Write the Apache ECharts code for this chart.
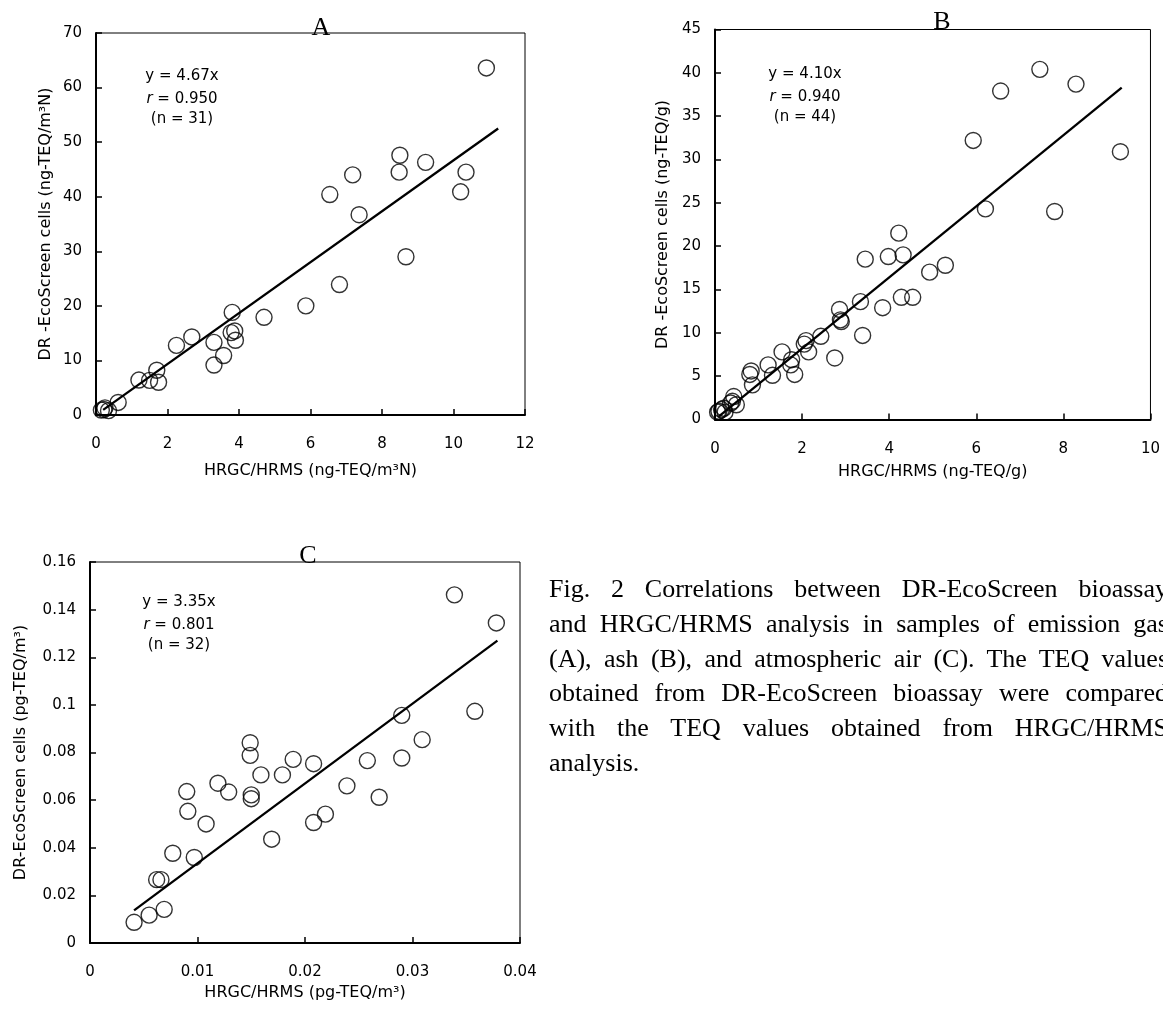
<!DOCTYPE html>
<html>
<head>
<meta charset="utf-8">
<script src="https://cdn.jsdelivr.net/npm/echarts@6/dist/echarts.min.js"></script>
<style>
  html, body { margin: 0; padding: 0; background: #fff; overflow: hidden; }
  #main { width: 1163px; height: 1014px; }
  #caption {
    position: absolute; left: 549px; top: 572px; width: 619px;
    font-family: "Liberation Serif", "Times New Roman", serif;
    font-size: 26px; line-height: 34.8px; color: #000;
  }
  #caption .j { text-align: justify; text-align-last: justify; }
</style>
</head>
<body>
<div id="main"></div>
<div id="caption">
  <div class="j">Fig. 2 Correlations between DR-EcoScreen bioassay</div>
  <div class="j">and HRGC/HRMS analysis in samples of emission gas</div>
  <div class="j">(A), ash (B), and atmospheric air (C). The TEQ values</div>
  <div class="j">obtained from DR-EcoScreen bioassay were compared</div>
  <div class="j">with the TEQ values obtained from HRGC/HRMS</div>
  <div>analysis.</div>
</div>
<script>
// A: emission gas (ng-TEQ/m3N)
var xA = [10.92, 8.5, 8.48, 9.22, 10.35, 10.2, 7.18, 6.54, 7.36, 8.67, 6.81, 5.87, 4.7, 3.81, 3.88, 3.78,
  3.9, 3.3, 3.57, 3.3, 2.68, 2.25, 1.7, 1.75, 1.5, 1.2, 0.62, 0.35, 0.22, 0.15, 0.25];
var yA = [63.6, 47.6, 44.5, 46.3, 44.5, 40.9, 44.0, 40.4, 36.7, 29.0, 23.9, 20.0, 17.9, 18.8, 15.4, 15.1,
  13.7, 13.3, 10.9, 9.15, 14.3, 12.75, 8.2, 6.0, 6.35, 6.4, 2.3, 0.8, 1.0, 0.9, 1.3];
var fitA = [[0.2, 0.93], [11.25, 52.5]];

// B: ash (ng-TEQ/g)
var xB = [7.46, 8.29, 6.56, 5.93, 9.31, 6.21, 7.8, 4.22, 3.98, 4.32, 3.45, 5.29, 4.93, 4.28, 4.54, 3.34,
  3.85, 2.86, 2.9, 2.88, 3.39, 2.43, 2.09, 2.15, 1.54, 2.75, 1.76, 1.74, 1.22, 1.83, 1.32, 0.83,
  0.8, 0.86, 0.43, 0.36, 0.49, 0.15, 0.23, 0.06, 0.09, 0.2, 0.4, 2.05];
var yB = [40.4, 38.7, 37.9, 32.2, 30.9, 24.3, 24.0, 21.5, 18.8, 19.0, 18.5, 17.8, 17.0, 14.1, 14.1, 13.6,
  12.9, 12.7, 11.3, 11.5, 9.7, 9.6, 9.1, 7.8, 7.8, 7.1, 6.9, 6.3, 6.3, 5.2, 5.1, 5.6,
  5.2, 4.0, 2.65, 1.9, 1.7, 1.15, 0.85, 0.85, 0.95, 1.3, 2.1, 8.7];
var fitB = [[0.09, 0.37], [9.34, 38.3]];

// C: atmospheric air (pg-TEQ/m3)
var xC = [0.0339, 0.0378, 0.0358, 0.029, 0.0309, 0.029, 0.0258, 0.0239, 0.0269, 0.0219, 0.0208, 0.0208,
  0.0189, 0.0179, 0.0169, 0.0159, 0.0149, 0.0149, 0.015, 0.015, 0.0129, 0.0119, 0.0108, 0.009,
  0.0091, 0.0097, 0.0077, 0.0066, 0.0062, 0.0069, 0.0055, 0.0041];
var yC = [0.1462, 0.1344, 0.0973, 0.0956, 0.0854, 0.0777, 0.0766, 0.066, 0.0612, 0.0541, 0.0506, 0.0753,
  0.0771, 0.0706, 0.0436, 0.0706, 0.0841, 0.0788, 0.0622, 0.0606, 0.0634, 0.0671, 0.05, 0.0636,
  0.0553, 0.0359, 0.0377, 0.0266, 0.0266, 0.0141, 0.0117, 0.0087];
var fitC = [[0.0041, 0.0137], [0.0379, 0.127]];

var FONT = '"DejaVu Sans", "Liberation Sans", Arial, sans-serif';
var SERIF = '"Liberation Serif", "Times New Roman", serif';

function pairs(xs, ys) {
  return xs.map(function (x, i) { return [x, ys[i]]; });
}

function xAxisCfg(idx, max, interval, name, gap) {
  return {
    gridIndex: idx, type: 'value', min: 0, max: max, interval: interval,
    name: name, nameLocation: 'middle', nameGap: gap,
    nameTextStyle: { fontFamily: FONT, fontSize: 16, color: '#000' },
    axisLine: { show: true, onZero: false, lineStyle: { color: '#000', width: 2 } },
    axisTick: { show: true, inside: true, length: 6, lineStyle: { color: '#000', width: 1.5 } },
    axisLabel: { margin: 22, fontFamily: FONT, fontSize: 15, color: '#000' },
    splitLine: { show: false }
  };
}

function yAxisCfg(idx, max, interval, name, gap) {
  return {
    gridIndex: idx, type: 'value', min: 0, max: max, interval: interval,
    name: name, nameLocation: 'middle', nameGap: gap,
    nameTextStyle: { fontFamily: FONT, fontSize: 16, color: '#000' },
    axisLine: { show: true, onZero: false, lineStyle: { color: '#000', width: 2 } },
    axisTick: { show: true, inside: true, length: 6, lineStyle: { color: '#000', width: 1.5 } },
    axisLabel: { margin: 14, fontFamily: FONT, fontSize: 15, color: '#000' },
    splitLine: { show: false }
  };
}

function scatterCfg(idx, data) {
  return {
    type: 'scatter', xAxisIndex: idx, yAxisIndex: idx, data: data,
    symbol: 'circle', symbolSize: 16, silent: true, z: 2,
    itemStyle: { color: 'rgba(255,255,255,0)', borderColor: '#000', borderWidth: 1.4 }
  };
}

function fitCfg(idx, data) {
  return {
    type: 'line', xAxisIndex: idx, yAxisIndex: idx, data: data,
    symbol: 'none', silent: true, z: 3,
    lineStyle: { color: '#000', width: 2.3 }
  };
}

function label(x, y, text, size, family) {
  return {
    type: 'text', x: x, y: y, z: 10,
    style: {
      text: text, fill: '#000', fontSize: size, fontFamily: family,
      textAlign: 'center', textVerticalAlign: 'middle',
      rich: { i: { fontStyle: 'italic', fontSize: size, fontFamily: family } }
    }
  };
}

function stats(x, y, eq, r, n) {
  return [
    label(x, y, eq, 15, FONT),
    label(x, y + 23, '{i|r} = ' + r, 15, FONT),
    label(x, y + 43, '(n = ' + n + ')', 15, FONT)
  ];
}

var chart = echarts.init(document.getElementById('main'));
var gridStyle = { show: true, borderColor: '#000', borderWidth: 1, backgroundColor: 'transparent' };

chart.setOption({
  animation: false,
  backgroundColor: '#fff',
  grid: [
    Object.assign({ left: 96, top: 33, width: 429, height: 382 }, gridStyle),
    Object.assign({ left: 715, top: 29.5, width: 436, height: 390 }, gridStyle),
    Object.assign({ left: 90, top: 562, width: 430, height: 381 }, gridStyle)
  ],
  xAxis: [
    xAxisCfg(0, 12, 2, 'HRGC/HRMS (ng-TEQ/m³N)', 48),
    xAxisCfg(1, 10, 2, 'HRGC/HRMS (ng-TEQ/g)', 44),
    xAxisCfg(2, 0.04, 0.01, 'HRGC/HRMS (pg-TEQ/m³)', 42)
  ],
  yAxis: [
    yAxisCfg(0, 70, 10, 'DR -EcoScreen cells (ng-TEQ/m³N)', 42),
    yAxisCfg(1, 45, 5, 'DR -EcoScreen cells (ng-TEQ/g)', 44),
    yAxisCfg(2, 0.16, 0.02, 'DR-EcoScreen cells (pg-TEQ/m³)', 61)
  ],
  series: [
    scatterCfg(0, pairs(xA, yA)), fitCfg(0, fitA),
    scatterCfg(1, pairs(xB, yB)), fitCfg(1, fitB),
    scatterCfg(2, pairs(xC, yC)), fitCfg(2, fitC)
  ],
  graphic: [
    label(321, 28, 'A', 26, SERIF),
    label(942, 22, 'B', 26, SERIF),
    label(308, 556, 'C', 26, SERIF)
  ].concat(
    stats(182, 76, 'y = 4.67x', '0.950', 31),
    stats(805, 74, 'y = 4.10x', '0.940', 44),
    stats(179, 602, 'y = 3.35x', '0.801', 32)
  )
});
</script>
</body>
</html>
